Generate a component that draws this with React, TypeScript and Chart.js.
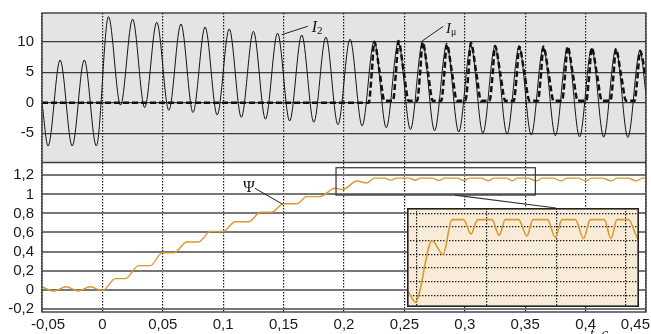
import React, { useEffect, useRef } from 'react';
import { Chart, registerables } from 'chart.js';
Chart.register(...registerables);

// ---------- data (time in s) ----------
const I2_T = [-0.05, -0.045, -0.035, -0.025, -0.015, -0.005,
  0.005, 0.015, 0.025, 0.035, 0.045, 0.055, 0.065, 0.075, 0.085, 0.095,
  0.105, 0.115, 0.125, 0.135, 0.145, 0.155, 0.165, 0.175, 0.185, 0.195,
  0.205, 0.215, 0.225, 0.235, 0.245, 0.255, 0.265, 0.275, 0.285, 0.295,
  0.305, 0.315, 0.325, 0.335, 0.345, 0.355, 0.365, 0.375, 0.385, 0.395,
  0.405, 0.415, 0.425, 0.435, 0.445, 0.45];
const I2_V = [0, -7.1, 7.0, -7.1, 7.0, -7.1,
  14.1, -0.4, 13.7, -0.8, 13.2, -1.25, 12.9, -1.6, 12.4, -2.0,
  12.1, -2.4, 11.7, -2.7, 11.4, -3.0, 11.1, -3.2, 10.75, -3.6,
  10.4, -3.8, 10.1, -4.1, 9.9, -4.4, 9.8, -4.6, 9.5, -4.8,
  9.4, -5.0, 9.3, -5.15, 9.2, -5.3, 9.1, -5.4, 9.0, -5.6,
  8.95, -5.65, 8.8, -5.7, 8.55, 1.4];

const IMU_T = [-0.05,
  0.2205, 0.223, 0.225, 0.2295, 0.2335,
  0.2405, 0.243, 0.245, 0.2495, 0.2535,
  0.2605, 0.263, 0.265, 0.2695, 0.2735,
  0.2805, 0.283, 0.285, 0.2895, 0.2935,
  0.3005, 0.303, 0.305, 0.3095, 0.3135,
  0.3205, 0.323, 0.325, 0.3295, 0.3335,
  0.3405, 0.343, 0.345, 0.3495, 0.3535,
  0.3605, 0.363, 0.365, 0.3695, 0.3735,
  0.3805, 0.383, 0.385, 0.3895, 0.3935,
  0.4005, 0.403, 0.405, 0.4095, 0.4135,
  0.4205, 0.423, 0.425, 0.4295, 0.4335,
  0.4405, 0.443, 0.445, 0.45];
const IMU_V = [0,
  0, 5.0, 10.0, 5.0, 0.3,
  0.3, 5.0, 10.1, 5.0, 0.3,
  0.3, 4.9, 9.9, 4.9, 0.3,
  0.3, 4.8, 9.6, 4.8, 0.3,
  0.3, 4.9, 9.8, 4.9, 0.3,
  0.3, 4.6, 9.3, 4.6, 0.3,
  0.3, 4.6, 9.2, 4.6, 0.3,
  0.3, 4.6, 9.2, 4.6, 0.3,
  0.3, 4.6, 9.2, 4.6, 0.3,
  0.3, 4.5, 9.0, 4.5, 0.3,
  0.3, 4.4, 8.8, 4.4, 0.3,
  0.3, 4.3, 8.5, 4.0];

const PSI_T = [-0.05, -0.04, -0.03, -0.02, -0.01, 0.0,
  0.0108, 0.019, 0.030, 0.0397, 0.0494, 0.059, 0.070, 0.0797, 0.0894, 0.100,
  0.110, 0.121, 0.131, 0.140, 0.150, 0.161, 0.169, 0.180,
  0.1928, 0.1988, 0.2108, 0.2187,
  0.2251, 0.2334, 0.2387, 0.2435, 0.2538, 0.2590, 0.2633, 0.2729, 0.2789,
  0.2832, 0.2937, 0.2992, 0.3040, 0.3136, 0.3195, 0.3243, 0.3344, 0.3392,
  0.3435, 0.3518, 0.3593, 0.3640, 0.3730, 0.3795, 0.3845, 0.3935, 0.4000,
  0.4050, 0.4140, 0.4210, 0.4260, 0.4350, 0.4420, 0.4470, 0.4500];
const PSI_V = [0.03, -0.015, 0.03, -0.015, 0.03, -0.012,
  0.116, 0.116, 0.252, 0.252, 0.386, 0.386, 0.50, 0.50, 0.612, 0.612,
  0.713, 0.713, 0.812, 0.812, 0.902, 0.902, 0.977, 0.977,
  1.066, 1.050, 1.140, 1.120,
  1.171, 1.171, 1.150, 1.171, 1.171, 1.148, 1.171, 1.171, 1.147,
  1.171, 1.171, 1.145, 1.171, 1.171, 1.143, 1.171, 1.171, 1.143,
  1.171, 1.171, 1.142, 1.171, 1.171, 1.142, 1.171, 1.171, 1.142,
  1.171, 1.171, 1.142, 1.171, 1.171, 1.142, 1.171, 1.171];

const X_TICKS = [-0.05, 0, 0.05, 0.1, 0.15, 0.2, 0.25, 0.3, 0.35, 0.4, 0.45];
const TOP_TICKS = [-5, 0, 5, 10];
const BOT_TICKS = [-0.2, 0, 0.2, 0.4, 0.6, 0.8, 1, 1.2];
const INSET_X_TICKS = [0.2, 0.25, 0.3, 0.35];
const INSET_Y_TICKS = [1.06, 1.08, 1.1, 1.12, 1.14, 1.16, 1.18];

// ---------- layout / style config ----------
const W = 651, H = 334;
const PSI_COLOR = '#d99a2b';
const TOP_BG = '#e4e4e4';
const INSET_BG = '#f8ebd8';
const RANGE_X = [-0.05, 0.45];
const RANGE_TOP = [-9.8, 14.7];
const RANGE_BOT = [-0.235, 1.335];
const INSET_RANGE_X = [0.1928, 0.3593];
const INSET_RANGE_Y = [1.0428, 1.188];
const INSET_BOX = { t0: 0.252, t1: 0.444, v0: -0.18, v1: 0.857 };
const ZOOM_RECT = { t0: 0.1934, t1: 0.3584, v0: 0.993, v1: 1.28 };
const CONNECTOR = [[0.2919, 0.993], [0.3755, 0.857]];
const ANN_I2 = { line: [[0.1484, 11.14], [0.170, 12.52]], text: [0.1732, 11.59] };
const ANN_IMU = { line: [[0.2643, 10.06], [0.2822, 12.52]], text: [0.2844, 11.42] };
const ANN_PSI = { line: [[0.1263, 1.064], [0.1493, 0.896]], text: [0.1212, 1.028] };

const fmt = (v: number) => String(Math.round(v * 100) / 100).replace('.', ',');
const zip = (t: number[], v: number[]) => t.map((x, i) => ({ x, y: v[i] }));
const SANS = '"Liberation Sans", Arial, sans-serif';
const SERIF = '"Liberation Serif", "Times New Roman", serif';

export default function App() {
  const mainRef = useRef<HTMLCanvasElement>(null);
  const insetRef = useRef<HTMLCanvasElement>(null);

  useEffect(() => {
    const bgPlugin = {
      id: 'bg',
      beforeDraw(chart: any) {
        const { ctx, chartArea: a } = chart;
        const yt = chart.scales.yTop;
        ctx.save();
        ctx.fillStyle = '#ffffff';
        ctx.fillRect(0, 0, chart.width, chart.height);
        ctx.fillStyle = TOP_BG;
        ctx.fillRect(a.left, yt.top, a.right - a.left, yt.bottom - yt.top);
        ctx.restore();
      },
    };
    const overlay = {
      id: 'overlay',
      afterDraw(chart: any) {
        const { ctx, chartArea: a } = chart;
        const x = chart.scales.x, yt = chart.scales.yTop, yb = chart.scales.yBot;
        ctx.save();
        // frame & panel boundary
        ctx.strokeStyle = '#3c3c3c';
        ctx.lineWidth = 1.4;
        ctx.strokeRect(a.left, a.top, a.right - a.left, a.bottom - a.top);
        ctx.beginPath();
        ctx.moveTo(a.left, yt.bottom);
        ctx.lineTo(a.right, yt.bottom);
        ctx.stroke();
        // x labels
        ctx.fillStyle = '#1a1a1a';
        ctx.font = '15px ' + SANS;
        ctx.textBaseline = 'alphabetic';
        ctx.textAlign = 'left';
        X_TICKS.forEach((v) => {
          const s = fmt(v);
          const w = ctx.measureText(s).width;
          const px = x.getPixelForValue(v);
          let l = Math.max(px - w / 2, 31);
          l = Math.min(l, W - 1 - w);
          ctx.fillText(s, l, a.bottom + 16.5);
        });
        // "t, c"
        ctx.font = 'italic 15px ' + SERIF;
        ctx.fillText('t, c', x.getPixelForValue(0.4036), a.bottom + 26);
        // zoom rectangle
        ctx.strokeStyle = '#333';
        ctx.lineWidth = 1.2;
        const rx0 = x.getPixelForValue(ZOOM_RECT.t0), rx1 = x.getPixelForValue(ZOOM_RECT.t1);
        const ry0 = yb.getPixelForValue(ZOOM_RECT.v1), ry1 = yb.getPixelForValue(ZOOM_RECT.v0);
        ctx.strokeRect(rx0, ry0, rx1 - rx0, ry1 - ry0);
        ctx.beginPath();
        ctx.moveTo(x.getPixelForValue(CONNECTOR[0][0]), yb.getPixelForValue(CONNECTOR[0][1]));
        ctx.lineTo(x.getPixelForValue(CONNECTOR[1][0]), yb.getPixelForValue(CONNECTOR[1][1]));
        ctx.stroke();
        // leader lines
        ctx.strokeStyle = '#222';
        ctx.lineWidth = 1;
        const leader = (ln: number[][], ys: any) => {
          ctx.beginPath();
          ctx.moveTo(x.getPixelForValue(ln[0][0]), ys.getPixelForValue(ln[0][1]));
          ctx.lineTo(x.getPixelForValue(ln[1][0]), ys.getPixelForValue(ln[1][1]));
          ctx.stroke();
        };
        leader(ANN_I2.line, yt);
        leader(ANN_IMU.line, yt);
        leader(ANN_PSI.line, yb);
        // labels
        ctx.fillStyle = '#111';
        let tx = x.getPixelForValue(ANN_I2.text[0]), ty = yt.getPixelForValue(ANN_I2.text[1]);
        ctx.font = 'italic 16px ' + SERIF;
        ctx.fillText('I', tx, ty);
        let wI = ctx.measureText('I').width;
        ctx.font = '11px ' + SERIF;
        ctx.fillText('2', tx + wI, ty + 2);
        tx = x.getPixelForValue(ANN_IMU.text[0]); ty = yt.getPixelForValue(ANN_IMU.text[1]);
        ctx.font = 'italic 15px ' + SERIF;
        ctx.fillText('I', tx, ty);
        wI = ctx.measureText('I').width;
        ctx.font = '10px ' + SERIF;
        ctx.fillText('μ', tx + wI, ty + 1.5);
        ctx.font = '16px ' + SERIF;
        ctx.textAlign = 'center';
        ctx.fillText('Ψ', x.getPixelForValue(ANN_PSI.text[0]), yb.getPixelForValue(ANN_PSI.text[1]));
        ctx.restore();
      },
    };

    const yScale = (range: number[], ticks: number[], color: string, lw: number) => ({
      type: 'linear',
      position: 'left',
      stack: 'panels',
      stackWeight: 1,
      min: range[0],
      max: range[1],
      afterBuildTicks: (s: any) => { s.ticks = ticks.map((v) => ({ value: v })); },
      afterFit: (s: any) => { s.width = 42; s.paddingTop = 0; s.paddingBottom = 0; },
      ticks: { autoSkip: false, font: { family: SANS, size: 15 }, color: '#1a1a1a', padding: 8, callback: (v: any) => fmt(Number(v)) },
      grid: { color, lineWidth: lw, drawTicks: false },
      border: { display: false },
    });

    const main = new Chart(mainRef.current as HTMLCanvasElement, {
      type: 'line',
      data: {
        datasets: [
          { data: zip(I2_T, I2_V), yAxisID: 'yTop', borderColor: '#141414', borderWidth: 1, pointRadius: 0, cubicInterpolationMode: 'monotone', fill: false },
          { data: zip(IMU_T, IMU_V), yAxisID: 'yTop', borderColor: '#111', borderWidth: 2.5, borderDash: [6, 3], pointRadius: 0, cubicInterpolationMode: 'monotone', fill: false },
          { data: zip(PSI_T, PSI_V), yAxisID: 'yBot', borderColor: PSI_COLOR, borderWidth: 1.4, pointRadius: 0, cubicInterpolationMode: 'monotone', fill: false },
        ],
      } as any,
      options: {
        responsive: false,
        animation: false,
        events: [],
        layout: { padding: { left: 0, right: 5, top: 13, bottom: 0 } },
        plugins: { legend: { display: false }, tooltip: { enabled: false } },
        scales: {
          x: {
            type: 'linear',
            min: RANGE_X[0],
            max: RANGE_X[1],
            afterBuildTicks: (s: any) => { s.ticks = X_TICKS.map((v) => ({ value: v })); },
            afterFit: (s: any) => { s.height = 22; s.paddingLeft = 0; s.paddingRight = 0; },
            ticks: { display: false, autoSkip: false },
            grid: { color: '#1a1a1a', lineWidth: 1.2, drawTicks: false },
            border: { display: false, dash: [1.4, 1.6] },
          },
          yBot: yScale(RANGE_BOT, BOT_TICKS, '#777777', 2),
          yTop: yScale(RANGE_TOP, TOP_TICKS, '#3a3a3a', 1.3),
        } as any,
      },
      plugins: [bgPlugin, overlay],
    });

    // place inset
    const sx = main.scales.x, sb = main.scales.yBot;
    const left = Math.round(sx.getPixelForValue(INSET_BOX.t0));
    const right = Math.round(sx.getPixelForValue(INSET_BOX.t1));
    const top = Math.round(sb.getPixelForValue(INSET_BOX.v1));
    const bottom = Math.round(sb.getPixelForValue(INSET_BOX.v0));
    const ic = insetRef.current as HTMLCanvasElement;
    ic.width = right - left;
    ic.height = bottom - top;
    ic.style.left = left + 'px';
    ic.style.top = top + 'px';

    const insetDeco = {
      id: 'insetDeco',
      beforeDraw(chart: any) {
        const { ctx } = chart;
        ctx.save();
        ctx.fillStyle = INSET_BG;
        ctx.fillRect(0, 0, chart.width, chart.height);
        ctx.restore();
      },
      afterDraw(chart: any) {
        const { ctx } = chart;
        ctx.save();
        ctx.strokeStyle = '#222';
        ctx.lineWidth = 1.6;
        ctx.strokeRect(0.8, 0.8, chart.width - 1.6, chart.height - 1.6);
        ctx.restore();
      },
    };
    const insetAxis = (range: number[], ticks: number[], horiz: boolean) => ({
      type: 'linear',
      min: range[0],
      max: range[1],
      afterBuildTicks: (s: any) => { s.ticks = ticks.map((v) => ({ value: v })); },
      afterFit: (s: any) => {
        if (horiz) s.height = 0; else s.width = 0;
        s.paddingTop = 0; s.paddingBottom = 0; s.paddingLeft = 0; s.paddingRight = 0;
      },
      ticks: { display: false, autoSkip: false },
      grid: { color: '#1a1a1a', lineWidth: 1.2, drawTicks: false },
      border: { display: false, dash: [1.4, 1.6] },
    });
    const inset = new Chart(ic, {
      type: 'line',
      data: {
        datasets: [
          { data: zip(PSI_T, PSI_V), borderColor: PSI_COLOR, borderWidth: 1.6, pointRadius: 0, cubicInterpolationMode: 'monotone', fill: false },
        ],
      } as any,
      options: {
        responsive: false,
        animation: false,
        events: [],
        layout: { padding: 0 },
        plugins: { legend: { display: false }, tooltip: { enabled: false } },
        scales: {
          x: insetAxis(INSET_RANGE_X, INSET_X_TICKS, true),
          y: insetAxis(INSET_RANGE_Y, INSET_Y_TICKS, false),
        } as any,
      },
      plugins: [insetDeco],
    });

    return () => {
      inset.destroy();
      main.destroy();
    };
  }, []);

  return (
    <div style={{ position: 'fixed', left: 0, top: 0, width: W, height: H, background: '#fff', overflow: 'hidden' }}>
      <canvas ref={mainRef} width={W} height={H} style={{ position: 'absolute', left: 0, top: 0 }} />
      <canvas ref={insetRef} width={10} height={10} style={{ position: 'absolute', left: 0, top: 0 }} />
    </div>
  );
}
